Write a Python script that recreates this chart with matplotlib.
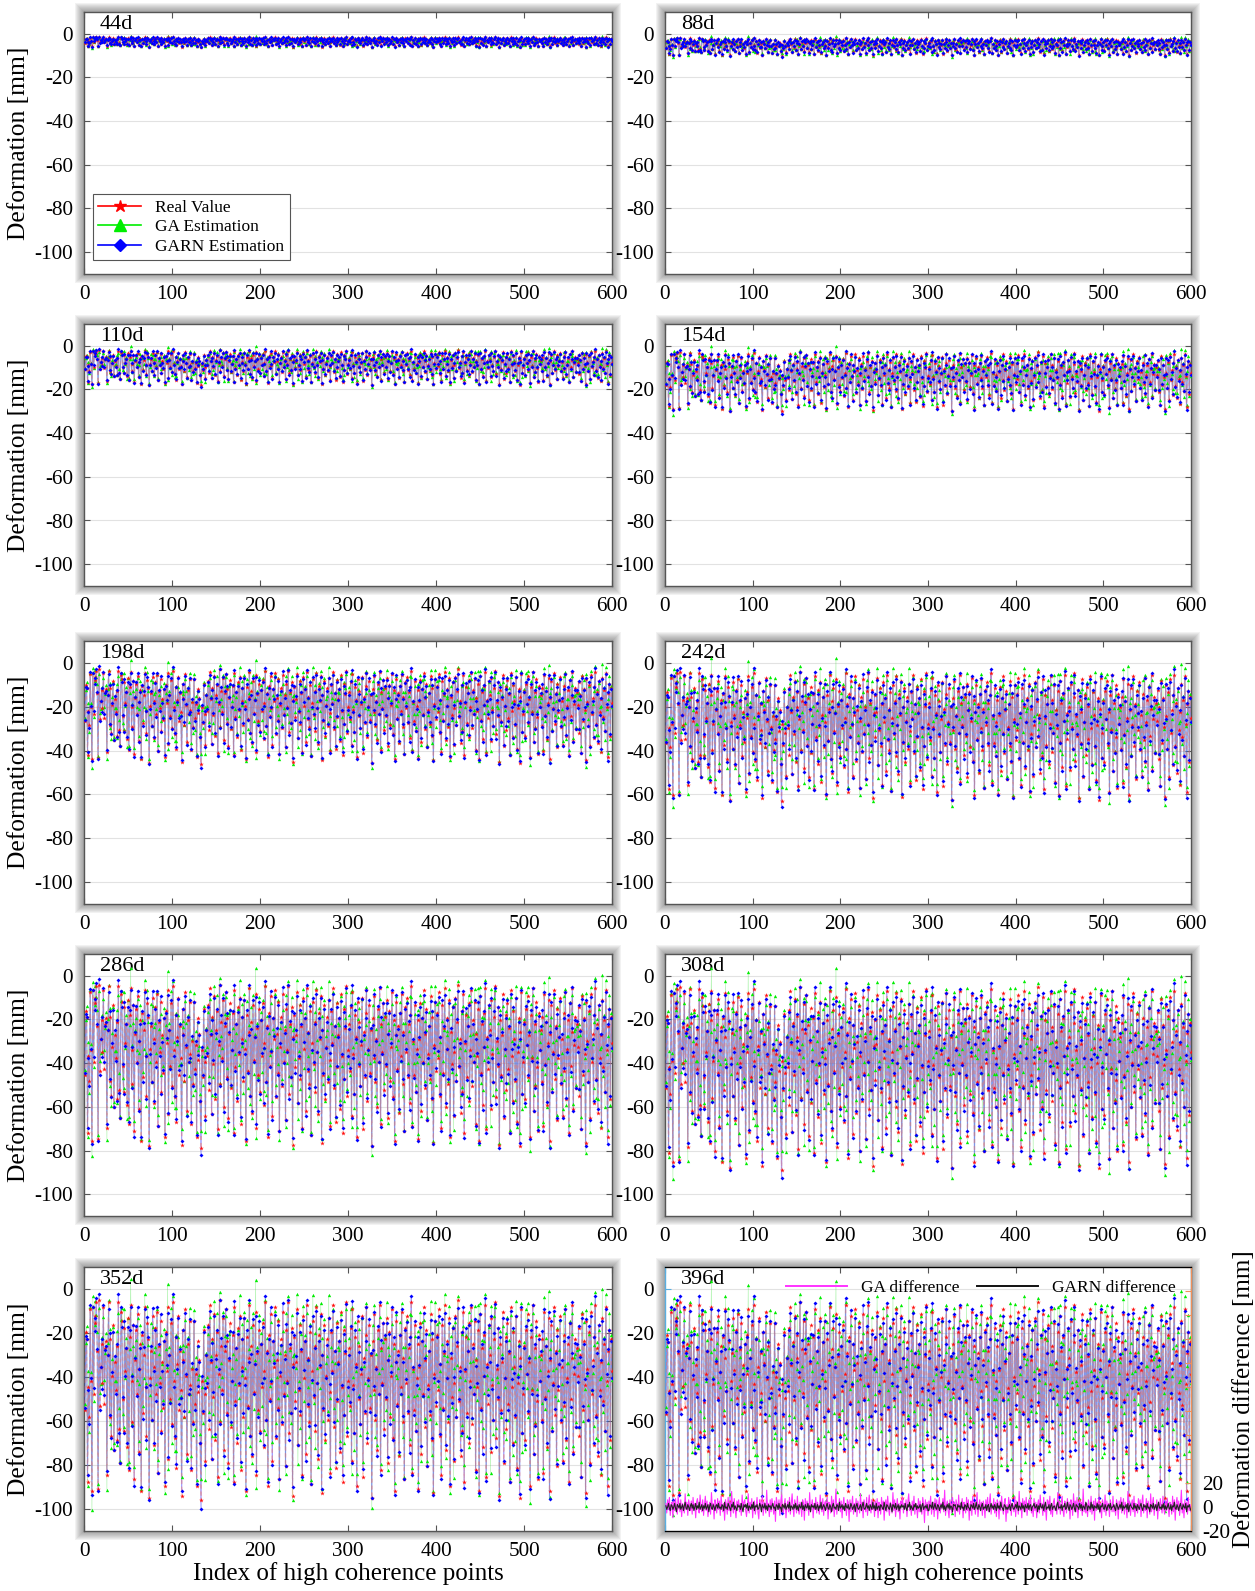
import numpy as np
import matplotlib
matplotlib.use("Agg")
import matplotlib.pyplot as plt
from matplotlib.patches import Rectangle
from matplotlib.lines import Line2D

plt.rcParams['font.family'] = ['Liberation Serif', 'DejaVu Serif']
plt.rcParams['axes.unicode_minus'] = False

# epochs and the depth range (top / bottom of the point cloud, mm)
epochs = ['44d', '88d', '110d', '154d', '198d', '242d', '286d', '308d', '352d', '396d']
shallow = [1.5, 2, 2, 3, 3, 4, 4, 5, 5, 6]
deep = [6, 10, 18, 30, 46, 63, 79, 89, 96, 98]

# per-point deformation profile (mm, positive = subsidence)
profile_txt = """
57 23 26 88 47 60 13 44 92 12 50 16 19 10 31 91 9 55 38 28
45 12 54 30 27 85 33 10 60 26 68 42 20 74 36 48 29 70 10 65
80 14 18 52 66 21 40 30 73 17 83 25 11 62 44 20 87 35 22 50
15 75 39 28 92 24 58 33 12 47 68 19 26 95 43 31 61 16 38 72
21 50 14 84 29 45 18 66 36 56 27 90 23 40 12 78 33 52 19 63
10 44 69 25 82 37 16 57 31 48 94 22 35 60 13 42 76 28 50 18
46 83 39 62 18 54 41 90 27 49 35 71 96 44 58 22 50 79 33 47
20 65 11 36 78 26 51 15 70 33 23 86 41 9 62 29 48 17 74 31
13 58 27 80 35 19 64 44 24 88 12 53 30 71 21 46 16 83 38 26
60 17 43 92 25 55 34 11 68 29 77 20 49 37 14 85 32 57 22 66
28 47 19 73 40 10 61 31 90 24 52 15 45 79 27 38 12 69 35 56
18 87 42 26 63 14 50 33 81 22 44 10 67 30 58 21 94 37 25 53
36 13 72 48 20 59 31 85 16 43 27 76 11 55 34 62 23 89 40 18
51 29 66 12 45 78 24 38 15 93 33 57 20 70 42 26 61 17 49 84
23 40 11 64 31 82 19 53 36 27 75 14 47 88 22 59 32 10 68 44
30 55 21 79 13 46 67 25 37 90 18 52 29 63 41 16 86 34 58 24
12 71 43 20 56 33 95 27 48 15 61 38 74 22 50 11 83 30 45 19
65 26 52 17 80 35 23 60 42 13 69 28 92 36 18 54 31 77 24 47
14 62 34 87 21 45 16 58 30 72 25 10 84 39 57 20 66 43 28 91
38 19 76 27 50 12 64 35 22 81 46 31 59 15 70 26 93 41 18 55
24 48 13 68 37 85 20 56 32 11 74 43 27 62 17 90 34 51 21 79
45 16 60 29 9 53 38 77 23 66 14 88 40 25 58 31 19 71 44 12
63 28 50 18 83 35 47 22 92 15 56 30 73 24 42 11 86 37 54 20
33 75 17 46 61 26 10 69 39 52 21 94 28 57 36 14 80 43 25 65
19 54 32 88 12 47 71 23 38 60 16 82 45 27 95 34 13 67 50 29
70 22 41 15 58 36 90 25 48 11 76 30 63 18 53 87 24 44 33 61
26 84 14 51 29 73 40 17 92 35 20 66 45 12 59 31 81 22 48 37
16 62 38 79 24 55 13 70 43 28 88 19 52 34 11 75 41 26 64 30
42 21 68 33 86 15 57 27 46 93 18 39 61 23 80 14 50 35 72 25
11 59 30 77 20 48 36 85 17 53 28 66 12 44 90 31 22 70 26 40
"""

# GA estimation minus real value at 396d (mm)
ga_diff_txt = """
3 -5 6 -2 8 -7 1 4 -9 5 -3 7 -1 -6 9 2 -4 6 -8 3 0 -5 11 -2 4 -7 6 1 -3 5
-6 8 -1 3 -9 4 7 -2 -5 10 1 -4 6 -7 2 9 -3 5 -8 0 4 -6 12 -1 3 -10 6 2 -5 7
-2 5 -7 9 1 -4 3 -11 6 2 -6 8 -3 4 -8 13 0 -5 7 -2 -9 5 1 6 -4 3 -7 10 -1 4
6 -3 -8 2 11 -5 4 -1 7 -9 3 5 -6 1 8 -4 -10 6 2 -3 9 -7 4 0 -5 14 -2 3 -8 6
-4 7 1 -6 5 -12 8 3 -2 6 -7 4 10 -3 -5 2 7 -9 1 5 -4 8 -6 3 11 -1 -8 6 2 -5
9 -2 -6 4 1 -8 6 3 -11 7 -3 5 2 -7 12 -4 1 6 -9 3 -2 8 -5 4 -1 -6 10 2 -4 7
-7 3 5 -2 8 -10 4 1 -5 9 -3 6 -8 2 15 -6 3 -1 7 -4 5 -9 2 8 -3 1 -7 6 4 -12
6 -4 2 9 -6 3 -2 7 -8 5 1 -5 11 -3 4 -9 6 2 -4 8 -7 3 10 -1 -5 6 -2 4 -8 5
-3 7 -9 4 1 -6 8 -2 5 -11 3 6 -4 9 -1 -7 4 2 -5 12 -3 6 -8 1 7 -4 3 -10 5 2
8 -5 3 -1 6 -8 4 11 -3 2 -7 5 -2 9 -6 3 1 -9 7 -4 5 -1 -6 8 2 -13 6 -3 4 -7
5 -2 9 -6 1 4 -8 7 -3 6 -10 2 8 -5 3 -1 7 -4 14 -7 2 5 -3 -9 6 1 -5 8 -2 4
-8 6 2 -4 10 -6 3 -1 7 -9 4 1 -5 8 -3 6 -11 2 5 -7 9 -2 4 -6 3 12 -8 1 6 -3
4 -7 5 1 -9 6 -2 8 -4 3 11 -6 2 -1 7 -5 4 -8 6 3 -10 5 -3 9 -1 -6 4 7 -12 2
-5 8 -2 6 -7 3 1 -4 9 -8 5 2 -6 13 -3 4 -9 7 -1 5 -4 8 -7 2 6 -3 10 -5 1 -8
7 -3 4 -9 2 6 -5 10 -1 3 -7 8 -4 1 -11 6 5 -2 9 -6 3 -8 4 7 -3 1 -6 12 -2 5
-6 4 9 -3 -8 5 2 -5 7 -1 4 -10 6 3 -7 11 -2 5 -4 8 -9 1 6 -3 4 -7 15 -4 2 -5
3 -8 6 2 -4 9 -6 1 5 -11 7 -3 4 -1 8 -5 3 -9 6 2 -4 10 -7 5 -2 3 -8 6 1 -4
9 -4 1 -7 6 3 -10 5 -2 8 -5 2 7 -6 4 -1 -9 13 -3 5 -7 2 6 -4 9 -8 3 1 -5 7
-2 6 -8 4 10 -5 2 -3 7 -9 5 1 -6 11 -4 3 8 -7 2 -1 6 -10 4 -3 7 1 -5 9 -2 -6
5 -3 7 -1 -8 4 2 -6 9 -4 6 -11 3 8 -2 5 -7 1 14 -5 3 -9 6 -2 4 -6 8 -3 2 -4
"""

# GARN estimation minus real value at 396d (mm)
garn_diff_txt = """
1 -2 0 3 -1 -3 2 1 -2 0 3 -1 -4 2 1 -1 3 -2 0 2 -3 1 4 -1 -2 2 0 -3 1 3
-1 2 -3 0 3 -2 1 -1 4 -2 0 2 -3 1 -1 3 -2 0 2 -4 1 3 -1 -2 2 0 -3 1 2 -1
3 -1 0 -2 2 1 -3 4 -1 0 -2 3 1 -1 -3 2 0 4 -2 1 -1 -3 2 0 1 -2 3 -1 -4 2
0 2 -1 3 -3 1 0 -2 2 -1 4 -3 1 0 2 -2 -1 3 1 -4 2 0 -1 3 -2 1 -3 2 0 1
-2 1 3 -1 0 -3 2 1 -2 3 -1 0 -4 2 1 -1 3 -2 0 2 -1 4 -3 1 0 -2 2 -1 3 -2
1 -3 2 0 -1 4 -2 1 -3 2 0 -1 3 -2 1 -4 2 0 1 -1 3 -2 0 2 -3 1 -1 4 -2 0
2 0 -3 1 3 -1 -2 2 0 -4 1 3 -1 0 -2 2 1 -3 4 -1 0 2 -2 1 -3 3 0 -1 2 -2
-1 3 1 -2 0 2 -4 1 3 -1 -2 0 2 -3 1 4 -1 -2 0 3 -1 1 -3 2 0 -2 4 -1 1 -3
3 -2 0 1 -3 2 1 -1 -2 4 0 -3 2 1 -1 -2 3 0 -4 2 1 -1 3 -2 0 2 -3 1 -1 2
0 1 -2 3 -1 -3 2 0 4 -2 1 -1 -3 2 0 3 -2 1 -1 0 2 -4 1 3 -2 0 1 -1 2 -3
-3 2 1 -1 4 -2 0 3 -1 -2 2 1 -3 0 2 -1 4 -2 1 -3 0 2 -1 3 -2 1 0 -4 2 1
2 -1 -3 2 0 1 -2 4 -1 0 -3 2 1 -2 3 0 -1 -3 2 1 -1 3 -2 0 4 -1 -2 2 0 -3
1 3 -2 0 -1 2 -3 1 2 -4 0 3 -1 1 -2 2 0 -3 3 -1 1 -2 4 0 -1 -3 2 1 -2 0
-2 0 2 -3 1 3 -1 -2 0 2 -1 4 -3 1 0 -2 3 -1 1 -4 2 0 -1 3 -2 1 2 -3 0 1
3 -1 0 2 -4 1 -2 3 0 -1 2 -3 1 4 -2 0 -1 2 -3 1 3 -2 0 1 -1 -3 2 4 -1 0
-1 2 -3 1 0 3 -2 -1 4 0 -3 2 1 -2 0 3 -1 -4 2 1 0 -2 3 -1 2 -3 1 0 -2 4
2 -3 1 0 -2 4 -1 2 -3 1 0 -1 3 -2 2 -4 1 0 3 -1 -2 2 0 -3 1 2 -1 3 -2 0
0 2 -1 -3 3 1 -2 0 2 -1 4 -3 1 -1 0 2 -2 3 -4 1 2 0 -1 -2 3 -1 1 -3 2 0
-2 1 3 -1 -3 2 0 1 -2 3 -1 0 -4 2 1 -1 3 -2 0 2 -3 1 4 -1 0 -2 2 -1 3 -2
1 -2 0 3 -1 -2 2 -3 1 0 4 -1 -2 2 0 -3 1 3 -1 -2 2 0 -1 3 -4 1 0 2 -1 -3
"""

diff_ticks = list(range(-20, 201, 20))
diff_labels = ['-20', '0', '20'] + [''] * (len(diff_ticks) - 3)

profile = np.array(profile_txt.split(), dtype=float)
ga_diff = np.array(ga_diff_txt.split(), dtype=float)
garn_diff = np.array(garn_diff_txt.split(), dtype=float)
idx = np.arange(1, len(profile) + 1)

W, H = 1255, 1591
fig = plt.figure(figsize=(W / 100, H / 100), dpi=100)

col_x = [(84, 612), (665, 1191)]
row_y = [(12, 274), (324, 586), (641, 904), (954, 1216), (1267, 1531)]


def add_shadow(x0, y0, x1, y1):
    # soft grey glow round the frame, like the exported figure
    for pad in range(1, 10):
        r = Rectangle(((x0 - pad) / W, 1 - (y1 + pad) / H), (x1 - x0 + 2 * pad) / W,
                      (y1 - y0 + 2 * pad) / H, transform=fig.transFigure,
                      facecolor='#505050', edgecolor='none', alpha=0.07, zorder=-5)
        fig.add_artist(r)


pmin, pmax = profile.min(), profile.max()
fs_tick = 15.2

for k, ep in enumerate(epochs):
    r, c = divmod(k, 2)
    x0, x1 = col_x[c]
    y0, y1 = row_y[r]
    add_shadow(x0, y0, x1, y1)
    ax = fig.add_axes([x0 / W, 1 - y1 / H, (x1 - x0) / W, (y1 - y0) / H])

    real = -(shallow[k] + (profile - pmin) / (pmax - pmin) * (deep[k] - shallow[k]))
    sc = deep[k] / 100.0
    ga = real + ga_diff * sc
    garn = real + garn_diff * sc

    ax.plot(idx, ga, color='#30e030', lw=0.5, alpha=0.35, zorder=2)
    ax.plot(idx, garn, color='#4a4aff', lw=0.8, alpha=0.55, zorder=3)
    ax.plot(idx, real, color='#ff7050', lw=0.9, ls=(0, (3, 2.5)), alpha=0.4, zorder=4)
    ax.plot(idx, ga, ls='none', marker='^', ms=2.4, color='#00ee00', mew=0, zorder=5)
    ax.plot(idx, real, ls='none', marker='*', ms=3.5, color='#ff1010', mew=0, zorder=6)
    ax.plot(idx, garn, ls='none', marker='D', ms=2.0, color='#0000ff', mew=0, zorder=7)

    ax.set_xlim(0, 600)
    ax.set_ylim(-110, 10)
    ax.set_xticks(range(0, 601, 100))
    ax.set_yticks(range(-100, 1, 20))
    ax.yaxis.grid(True, color='#e2e2e2', lw=0.8)
    ax.set_axisbelow(True)
    for s in ax.spines.values():
        s.set_color('#555555')
        s.set_linewidth(1.0)
    ax.tick_params(direction='in', length=4, width=0.8, color='#555555',
                   top=True, right=(ep != '396d'), labelsize=fs_tick, pad=8)
    ax.text(0.03, 0.99, ep, transform=ax.transAxes, ha='left', va='top', fontsize=16)

    if c == 0:
        ax.set_ylabel('Deformation [mm]', fontsize=18.4, labelpad=3)
    if r == 4:
        ax.set_xlabel('Index of high coherence points', fontsize=18, labelpad=1)

    if ep == '44d':
        handles = [Line2D([], [], color='#ff0000', marker='*', ms=9, lw=1.2),
                   Line2D([], [], color='#00ee00', marker='^', ms=8, lw=1.2),
                   Line2D([], [], color='#0000ff', marker='D', ms=6, lw=1.2)]
        leg = ax.legend(handles, ['Real Value', 'GA Estimation', 'GARN Estimation'],
                        loc='lower left', bbox_to_anchor=(0.0, 0.02), fontsize=12.5,
                        handlelength=2.5, fancybox=False, framealpha=1,
                        borderpad=0.3, labelspacing=0.2, handletextpad=0.8)
        leg.get_frame().set_edgecolor('#555555')
        leg.get_frame().set_linewidth(0.8)

    if ep == '396d':
        ax.spines['left'].set_color('#5aaee0')
        ax.tick_params(axis='y', colors='#5aaee0', labelcolor='black')
        ax2 = ax.twinx()
        ax2.plot(idx, ga_diff, color='#ff33ff', lw=0.8, zorder=3)
        ax2.plot(idx, garn_diff, color='#222222', lw=0.8, zorder=4)
        ax2.set_ylim(-20, 200)
        ax2.set_yticks(diff_ticks)
        ax2.set_yticklabels(diff_labels)
        ax2.spines['right'].set_color('#f0905a')
        ax2.spines['left'].set_visible(False)
        ax2.tick_params(direction='in', length=4, width=0.8, colors='#f0905a',
                        labelcolor='black', labelsize=fs_tick, pad=8)
        ax2.set_ylabel('Deformation difference [mm]', fontsize=18, labelpad=2)
        dh = [Line2D([], [], color='#ff33ff', lw=1.4), Line2D([], [], color='#111111', lw=1.4)]
        ax2.legend(dh, ['GA difference', 'GARN difference'], loc='upper right', ncol=2,
                   frameon=False, fontsize=12.5, handlelength=3.5, columnspacing=1.0,
                   bbox_to_anchor=(1.0, 1.01))

fig.savefig('out.png', dpi=100)
